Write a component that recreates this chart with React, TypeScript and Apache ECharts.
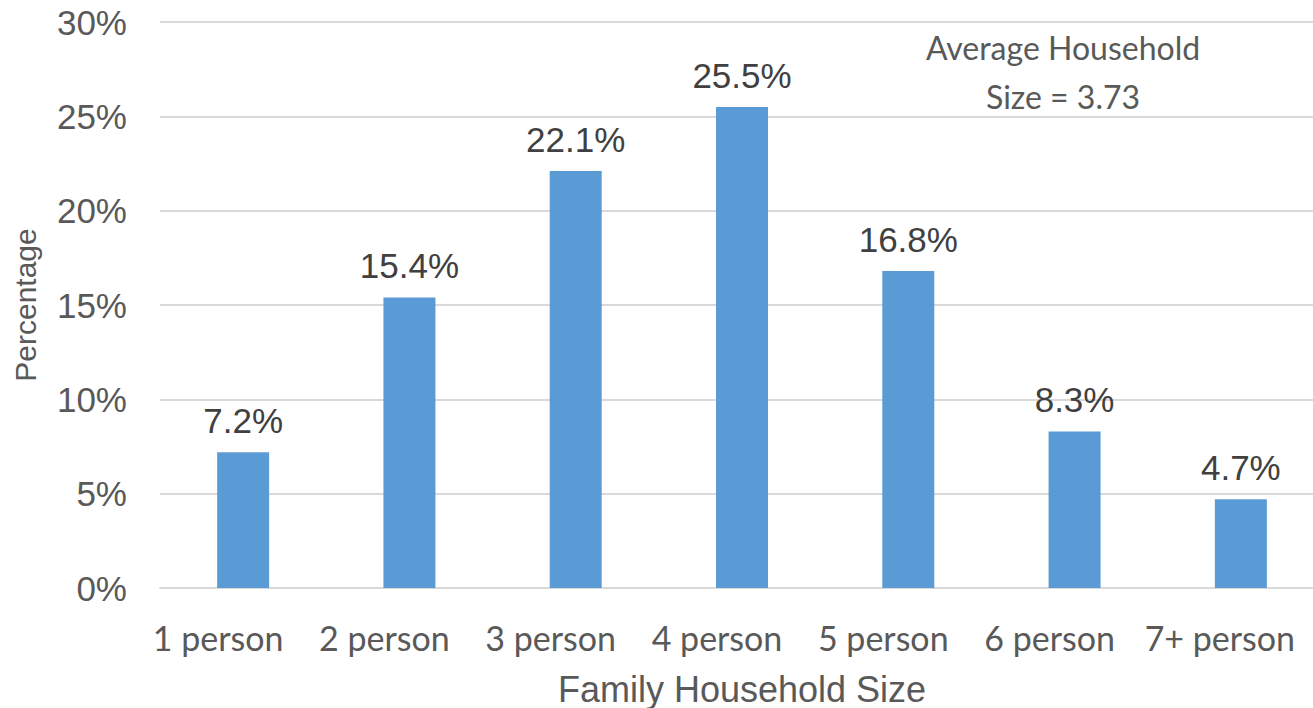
import React, { useEffect, useRef } from "react";
import * as echarts from "echarts";

// Share of family households by household size (percent)
const categories = ["1 person", "2 person", "3 person", "4 person", "5 person", "6 person", "7+ person"];
const shares = [7.2, 15.4, 22.1, 25.5, 16.8, 8.3, 4.7];
const yTicks = { min: 0, max: 30, interval: 5 };
const annotationLines = ["Average Household", "Size = 3.73"];

const ARIAL = "'Liberation Sans', Arial, sans-serif";
const CALIBRI = "Lato, 'Noto Sans', sans-serif";

const xLabelStyle = { color: "#595959", fontFamily: CALIBRI, fontSize: 34 };

export default function App() {
  const ref = useRef<HTMLDivElement>(null);

  useEffect(() => {
    if (!ref.current) return;
    const chart = echarts.init(ref.current, null, { renderer: "svg" });
    chart.setOption({
      animation: false,
      backgroundColor: "#ffffff",
      grid: {
        left: 160,
        top: 22,
        width: 1164,
        height: 566,
        containLabel: false,
        outerBoundsMode: "none",
      },
      xAxis: {
        type: "category",
        data: categories,
        axisLine: { show: true, lineStyle: { color: "#D9D9D9", width: 2 } },
        axisTick: { show: false },
        axisLabel: {
          interval: 0,
          margin: 32,
          // category labels sit a little left of their bars; the last one a bit less
          formatter: (v: string, i: number) =>
            i === categories.length - 1 ? `{last|${v}}` : `{cat|${v}}`,
          rich: {
            cat: { ...xLabelStyle, padding: [0, 50, 0, 0] },
            last: { ...xLabelStyle, padding: [0, 42, 0, 0] },
          },
          ...xLabelStyle,
        },
        name: "Family Household Size",
        nameLocation: "middle",
        nameGap: 83,
        nameTextStyle: { color: "#595959", fontFamily: ARIAL, fontSize: 36 },
      },
      yAxis: {
        type: "value",
        min: yTicks.min,
        max: yTicks.max,
        interval: yTicks.interval,
        axisLine: { show: false },
        axisTick: { show: false },
        splitLine: { lineStyle: { color: "#D9D9D9", width: 2 } },
        axisLabel: {
          color: "#595959",
          fontFamily: ARIAL,
          fontSize: 35,
          margin: 33,
          formatter: (v: number) => `${v}%`,
        },
        name: "Percentage",
        nameLocation: "middle",
        nameRotate: 90,
        nameGap: 120,
        nameTextStyle: { color: "#595959", fontFamily: ARIAL, fontSize: 30 },
      },
      series: [
        {
          type: "bar",
          data: shares,
          barWidth: 52,
          itemStyle: { color: "#5B9BD5" },
          label: {
            show: true,
            position: "top",
            distance: 14,
            color: "#404040",
            fontFamily: ARIAL,
            fontSize: 35,
            formatter: (p: any) => `${Number(p.value).toFixed(1)}%`,
          },
        },
      ],
      graphic: [
        {
          type: "text",
          x: 1063,
          y: 23,
          style: {
            text: annotationLines.join("\n"),
            align: "center",
            verticalAlign: "top",
            fill: "#595959",
            font: `32px ${CALIBRI}`,
            lineHeight: 49,
          },
        },
      ],
    });
    return () => chart.dispose();
  }, []);

  return (
    <div
      ref={ref}
      style={{ position: "fixed", left: 0, top: 0, width: 1313, height: 708, overflow: "hidden" }}
    />
  );
}
